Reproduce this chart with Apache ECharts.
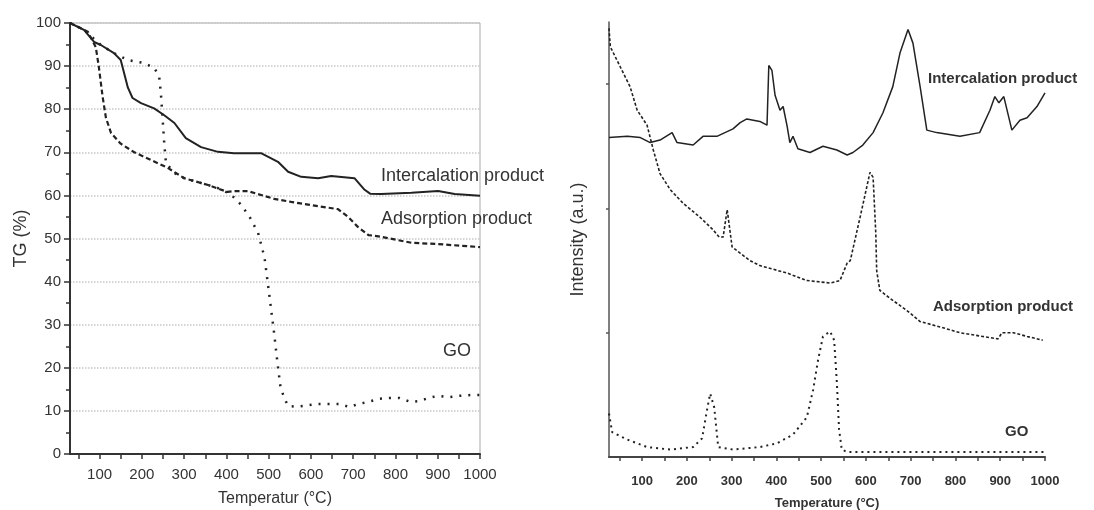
<!DOCTYPE html>
<html>
<head>
<meta charset="utf-8">
<script src="https://cdn.jsdelivr.net/npm/echarts@6/dist/echarts.min.js"></script>
<style>
  html, body { margin: 0; padding: 0; background: #fff; }
  #main { width: 1094px; height: 510px; }
</style>
</head>
<body>
<div id="main"></div>
<script>
// left panel: TG curves (temperature, TG %)
var tgInterT = [30, 63, 87, 103, 134, 150, 167, 178, 198, 229, 253, 277, 304, 340, 380, 418, 482, 522, 546, 577, 617, 648, 703, 727, 740, 766, 838, 901, 940, 1000];
var tgInterV = [100, 98.4, 95.6, 94.9, 93, 91.4, 85, 82.6, 81.4, 80.2, 78.6, 76.8, 73.3, 71.2, 70.1, 69.8, 69.8, 67.8, 65.5, 64.3, 64, 64.5, 64, 61.3, 60.4, 60.3, 60.6, 61, 60.3, 59.9];

var tgAdsT = [30, 72, 91, 98, 107, 115, 127, 150, 182, 222, 261, 300, 357, 403, 418, 451, 482, 513, 553, 617, 664, 688, 711, 736, 766, 838, 901, 1000];
var tgAdsV = [100, 98, 94.4, 90, 83, 78, 74.5, 72, 70, 68.2, 66.4, 64, 62.4, 60.8, 61, 61, 60.1, 59.2, 58.5, 57.5, 56.8, 55, 52.7, 50.8, 50.4, 49, 48.7, 48];

var tgGoT = [30, 63, 103, 134, 167, 206, 230, 241, 245, 249, 253, 257, 277, 300, 357, 380, 410, 435, 455, 475, 490, 497, 506, 513, 521, 528, 537, 546, 570, 617, 667, 691, 712, 736, 762, 786, 809, 835, 857, 878, 901, 927, 951, 978, 1000];
var tgGoV = [100, 98.4, 94.9, 93, 91.4, 90.7, 89.5, 87.5, 83.7, 78, 72, 67.5, 65.2, 64, 62.4, 61.7, 60.3, 57.8, 55, 51.3, 45.7, 40.4, 33.4, 28, 21, 15.5, 13, 11.1, 11, 11.6, 11.6, 10.9, 11.6, 12.1, 12.8, 13, 13, 12.1, 12.3, 13, 13.5, 13.2, 13.5, 13.7, 13.7];

// right panel: intensity curves (a.u.)
var msInterT = [26, 67, 96, 118, 140, 167, 178, 214, 236, 267, 303, 319, 334, 363, 379, 383, 390, 397, 408, 415, 424, 430, 437, 448, 475, 504, 535, 558, 571, 593, 616, 638, 660, 676, 694, 705, 721, 736, 758, 810, 854, 877, 888, 897, 908, 926, 944, 960, 982, 1000];
var msInterV = [2.57, 2.58, 2.57, 2.53, 2.55, 2.61, 2.53, 2.51, 2.58, 2.58, 2.64, 2.69, 2.72, 2.70, 2.67, 3.15, 3.11, 2.91, 2.79, 2.82, 2.66, 2.53, 2.58, 2.48, 2.45, 2.50, 2.47, 2.43, 2.45, 2.51, 2.61, 2.77, 2.98, 3.25, 3.44, 3.33, 2.98, 2.63, 2.61, 2.58, 2.61, 2.79, 2.90, 2.85, 2.90, 2.63, 2.71, 2.73, 2.82, 2.93];

var msAdsT = [26, 29, 51, 73, 89, 111, 125, 140, 163, 192, 229, 258, 272, 281, 290, 301, 319, 341, 363, 424, 468, 520, 542, 558, 565, 587, 609, 616, 622, 624, 631, 660, 691, 721, 772, 810, 861, 895, 904, 929, 960, 995];
var msAdsV = [3.45, 3.30, 3.14, 2.98, 2.79, 2.67, 2.47, 2.28, 2.15, 2.04, 1.93, 1.83, 1.77, 1.77, 1.99, 1.69, 1.64, 1.58, 1.54, 1.48, 1.42, 1.40, 1.42, 1.56, 1.58, 1.93, 2.29, 2.25, 1.80, 1.50, 1.34, 1.26, 1.18, 1.09, 1.04, 1.00, 0.97, 0.95, 1.00, 1.00, 0.97, 0.94];

var msGoT = [26, 33, 67, 111, 163, 214, 234, 245, 252, 261, 270, 303, 363, 401, 437, 468, 482, 493, 504, 520, 529, 535, 540, 546, 558, 1000];
var msGoV = [0.35, 0.20, 0.14, 0.08, 0.06, 0.08, 0.15, 0.38, 0.51, 0.40, 0.08, 0.06, 0.08, 0.11, 0.18, 0.32, 0.54, 0.78, 0.97, 1.01, 0.94, 0.60, 0.22, 0.06, 0.04, 0.04];

var xLabels = [100, 200, 300, 400, 500, 600, 700, 800, 900, 1000];
var xTicks = [50, 100, 150, 200, 250, 300, 350, 400, 450, 500, 550, 600, 650, 700, 750, 800, 850, 900, 950, 1000];
var yTicksRight = [1, 2, 3];

function zip(a, b) {
    var out = [];
    for (var i = 0; i < a.length; i++) out.push([a[i], b[i]]);
    return out;
}

function plain(v) {
    return String(v);
}

var myChart = echarts.init(document.getElementById('main'));
var ink = '#222';

var option = {
    backgroundColor: '#fff',
    animation: false,
    grid: [
        { left: 70, top: 23, right: 614, bottom: 56, show: true, borderColor: '#a8a8a8', borderWidth: 1, outerBoundsMode: 'none', containLabel: false },
        { left: 609, top: 22, right: 49, bottom: 53, outerBoundsMode: 'none', containLabel: false }
    ],
    xAxis: [
        {
            gridIndex: 0, type: 'value', min: 30, max: 1000,
            name: 'Temperatur (°C)', nameLocation: 'middle', nameGap: 37,
            nameTextStyle: { fontFamily: 'Liberation Sans', fontSize: 16, color: '#333' },
            axisLine: { lineStyle: { color: '#333', width: 2 } },
            axisTick: { show: true, customValues: xTicks, length: 5, lineStyle: { color: '#333', width: 1.5 } },
            axisLabel: { customValues: xLabels, formatter: plain, fontFamily: 'Liberation Sans', fontSize: 15, color: '#333', margin: 13 },
            splitLine: { show: false }
        },
        {
            gridIndex: 1, type: 'value', min: 26, max: 1000,
            name: 'Temperature (°C)', nameLocation: 'middle', nameGap: 40,
            nameTextStyle: { fontFamily: 'Liberation Sans', fontWeight: 'bold', fontSize: 13, color: '#333' },
            axisLine: { lineStyle: { color: '#444', width: 2 } },
            axisTick: { show: true, customValues: xTicks, length: 4, lineStyle: { color: '#444', width: 1.5 } },
            axisLabel: { customValues: xLabels, formatter: plain, fontFamily: 'Liberation Sans', fontWeight: 'bold', fontSize: 13, color: '#333', margin: 18 },
            splitLine: { show: false }
        }
    ],
    yAxis: [
        {
            gridIndex: 0, type: 'value', min: 0, max: 100, interval: 10,
            name: 'TG (%)', nameLocation: 'middle', nameGap: 40, nameRotate: 90,
            nameTextStyle: { fontFamily: 'Liberation Sans', fontSize: 18, color: '#333' },
            axisLine: { show: true, lineStyle: { color: '#333', width: 2 } },
            axisTick: { show: true, length: 6, lineStyle: { color: '#333', width: 1.5 } },
            minorTick: { show: true, splitNumber: 2, length: 4, lineStyle: { color: '#333', width: 1.5 } },
            axisLabel: { fontFamily: 'Liberation Sans', fontSize: 15, color: '#333', margin: 9 },
            splitLine: { show: true, lineStyle: { color: '#c8c8c8', type: 'dotted', width: 1.5 } }
        },
        {
            gridIndex: 1, type: 'value', min: 0, max: 3.5,
            name: 'Intensity (a.u.)', nameLocation: 'middle', nameGap: 22, nameRotate: 90,
            nameTextStyle: { fontFamily: 'Liberation Sans', fontSize: 18, color: '#333' },
            axisLine: { show: true, lineStyle: { color: '#555', width: 1.5 } },
            axisTick: { show: true, customValues: yTicksRight, length: 3, lineStyle: { color: '#555', width: 1.5 } },
            axisLabel: { show: false },
            splitLine: { show: false }
        }
    ],
    series: [
        {
            name: 'TG Intercalation product', type: 'line', xAxisIndex: 0, yAxisIndex: 0,
            data: zip(tgInterT, tgInterV), showSymbol: false,
            lineStyle: { color: ink, width: 2 }
        },
        {
            name: 'TG Adsorption product', type: 'line', xAxisIndex: 0, yAxisIndex: 0,
            data: zip(tgAdsT, tgAdsV), showSymbol: false,
            lineStyle: { color: ink, width: 2.2, type: [5, 3] }
        },
        {
            name: 'TG GO', type: 'line', xAxisIndex: 0, yAxisIndex: 0,
            data: zip(tgGoT, tgGoV), showSymbol: false,
            lineStyle: { color: ink, width: 2.5, type: [2, 7] }
        },
        {
            name: 'Intensity Intercalation product', type: 'line', xAxisIndex: 1, yAxisIndex: 1,
            data: zip(msInterT, msInterV), showSymbol: false,
            lineStyle: { color: ink, width: 1.5 }
        },
        {
            name: 'Intensity Adsorption product', type: 'line', xAxisIndex: 1, yAxisIndex: 1,
            data: zip(msAdsT, msAdsV), showSymbol: false,
            lineStyle: { color: ink, width: 1.6, type: [3, 2] }
        },
        {
            name: 'Intensity GO', type: 'line', xAxisIndex: 1, yAxisIndex: 1,
            data: zip(msGoT, msGoV), showSymbol: false,
            lineStyle: { color: ink, width: 2, type: [2, 4] }
        }
    ],
    graphic: [
        // left panel labels
        { type: 'text', left: 381, top: 167, style: { text: 'Intercalation product', font: '18px "Liberation Sans"', fill: '#333' } },
        { type: 'text', left: 381, top: 210, style: { text: 'Adsorption product', font: '18px "Liberation Sans"', fill: '#333' } },
        { type: 'text', left: 443, top: 342, style: { text: 'GO', font: '18px "Liberation Sans"', fill: '#333' } },
        // right panel labels
        { type: 'text', left: 928, top: 71, style: { text: 'Intercalation product', font: 'bold 15px "Liberation Sans"', fill: '#333' } },
        { type: 'text', left: 933, top: 299, style: { text: 'Adsorption product', font: 'bold 15px "Liberation Sans"', fill: '#333' } },
        { type: 'text', left: 1005, top: 424, style: { text: 'GO', font: 'bold 15px "Liberation Sans"', fill: '#333' } }
    ]
};
myChart.setOption(option);
</script>
</body>
</html>
